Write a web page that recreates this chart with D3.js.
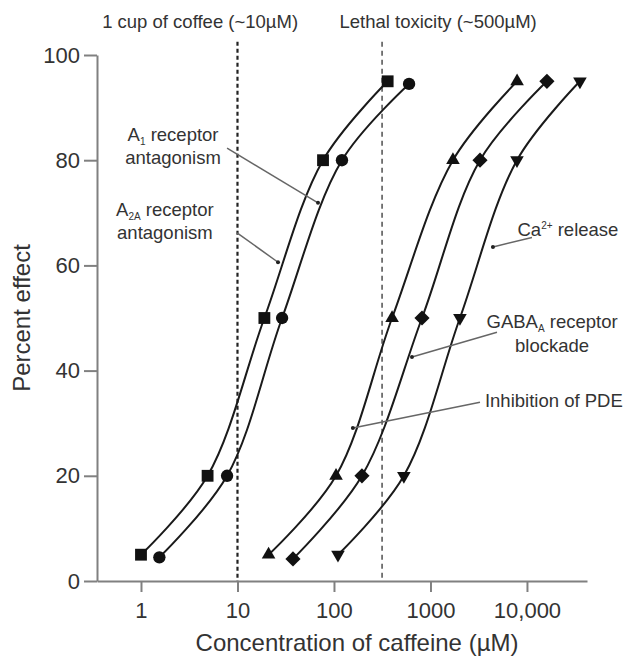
<!DOCTYPE html>
<html>
<head>
<meta charset="utf-8">
<script src="https://cdn.jsdelivr.net/npm/d3@7"></script>
<style>
  body { margin: 0; background: #fff; }
  text { font-family: "Liberation Sans", Arial, sans-serif; fill: #333; }
</style>
</head>
<body>
<div class="chart"></div>
<script>
// effect levels (percent) for every curve
var effectLevels = [5, 20, 50, 80, 95];
var a1Effect = [4.5, 20, 50, 80, 94.5];
var gabaEffect = [4.2, 20, 50, 80, 95];
// caffeine concentrations (uM) per mechanism
var a2aConc = [1, 4.9, 19, 77, 360];
var a1Conc = [1.55, 7.8, 29, 121, 600];
var pdeConc = [21, 105, 400, 1710, 7900];
var gabaConc = [37.6, 195, 817, 3260, 16100];
var calciumConc = [110, 530, 2020, 7880, 35400];
// axis ticks
var xTickValues = [1, 10, 100, 1000, 10000];
var xTickLabels = ["1", "10", "100", "1000", "10,000"];
var yTickValues = [0, 20, 40, 60, 80, 100];
// reference lines
var coffeeConc = 10;
var lethalConc = 315;

var svgWidth = 626;
var svgHeight = 656;

var svg = d3.select(".chart")
  .append("svg")
  .attr("width", svgWidth)
  .attr("height", svgHeight);

//scales
var xScale = d3.scaleLog().domain([0.35, 41900]).range([97, 587]);
var yScale = d3.scaleLinear().domain([0, 100]).range([581, 55]);

//axes
var xAxis = d3.axisBottom(xScale)
  .tickValues(xTickValues)
  .tickFormat(function(d, i){ return xTickLabels[i]; })
  .tickSize(11).tickSizeOuter(0).tickPadding(10);
var yAxis = d3.axisLeft(yScale)
  .tickValues(yTickValues)
  .tickSize(13).tickSizeOuter(0).tickPadding(4);

var xg = svg.append("g")
  .attr("transform", "translate(0," + yScale(0) + ")")
  .call(xAxis);
var yg = svg.append("g")
  .attr("transform", "translate(" + xScale(0.35) + ",0)")
  .call(yAxis);
[xg, yg].forEach(function(g){
  g.select(".domain").attr("stroke", "#808080").attr("stroke-width", 2);
  g.selectAll(".tick line").attr("stroke", "#808080").attr("stroke-width", 2);
  g.selectAll(".tick text").attr("fill", "#333").style("font-size", "22px")
    .attr("font-family", null);
});

//axis titles
svg.append("text")
  .attr("x", 357).attr("y", 651)
  .attr("text-anchor", "middle")
  .style("font-size", "24px")
  .text("Concentration of caffeine (\u00b5M)");
svg.append("text")
  .attr("transform", "translate(30,318) rotate(-90)")
  .attr("text-anchor", "middle")
  .style("font-size", "24px")
  .text("Percent effect");

//dashed reference lines
svg.append("line")
  .attr("x1", xScale(coffeeConc)).attr("x2", xScale(coffeeConc))
  .attr("y1", yScale(102.5)).attr("y2", yScale(0))
  .attr("stroke", "#222").attr("stroke-width", 2.2)
  .attr("stroke-dasharray", "4,3");
svg.append("line")
  .attr("x1", xScale(lethalConc)).attr("x2", xScale(lethalConc))
  .attr("y1", yScale(102.5)).attr("y2", yScale(0))
  .attr("stroke", "#333").attr("stroke-width", 1.3)
  .attr("stroke-dasharray", "5,4");
svg.append("text")
  .attr("x", xScale(4.1)).attr("y", yScale(105.1))
  .attr("text-anchor", "middle").style("font-size", "18.5px")
  .text("1 cup of coffee (~10\u00b5M)");
svg.append("text")
  .attr("x", xScale(1200)).attr("y", yScale(105.1))
  .attr("text-anchor", "middle").style("font-size", "18.5px")
  .text("Lethal toxicity (~500\u00b5M)");

//series
var series = [
  {conc: a2aConc, effect: effectLevels, shape: d3.symbolSquare, size: 140, rot: 0},
  {conc: a1Conc, effect: a1Effect, shape: d3.symbolCircle, size: 120, rot: 0},
  {conc: pdeConc, effect: effectLevels, shape: d3.symbolTriangle, size: 80, rot: 0},
  {conc: gabaConc, effect: gabaEffect, shape: d3.symbolSquare, size: 115, rot: 45},
  {conc: calciumConc, effect: effectLevels, shape: d3.symbolTriangle, size: 80, rot: 180}
];

var line = d3.line()
  .x(function(d){ return xScale(d[0]); })
  .y(function(d){ return yScale(d[1]); })
  .curve(d3.curveCatmullRom.alpha(0.5));

series.forEach(function(s){
  var pts = s.conc.map(function(c, i){ return [c, s.effect[i]]; });
  svg.append("path")
    .attr("d", line(pts))
    .attr("fill", "none")
    .attr("stroke", "#1a1a1a")
    .attr("stroke-width", 2);
  svg.selectAll(null)
    .data(pts)
    .enter()
    .append("path")
    .attr("d", d3.symbol().type(s.shape).size(s.size))
    .attr("transform", function(d){
      return "translate(" + xScale(d[0]) + "," + yScale(d[1]) + ") rotate(" + s.rot + ")";
    })
    .attr("fill", "#111");
});

//annotations: text lines in data coords, leader from -> to
var annotations = [
  {x: 2.15, lines: [[["A", ""], ["1", "sub"], [" receptor", ""]], [["antagonism", ""]]], y: [83.6, 79.3],
   from: [7.8, 82.3], to: [68.3, 71.9]},
  {x: 1.77, lines: [[["A", ""], ["2A", "sub"], [" receptor", ""]], [["antagonism", ""]]], y: [69.4, 65.0],
   from: [9.9, 66.2], to: [26.3, 60.6]},
  {x: 26600, lines: [[["Ca", ""], ["2+", "sup"], [" release", ""]]], y: [65.6],
   from: [11270, 65.3], to: [4440, 63.5]},
  {x: 18200, lines: [[["GABA", ""], ["A", "sub"], [" receptor", ""]], [["blockade", ""]]], y: [48.1, 43.5],
   from: [4890, 47.3], to: [643, 42.6]},
  {x: 19000, lines: [[["Inhibition of PDE", ""]]], y: [33.1],
   from: [3260, 34.0], to: [157, 29.1]}
];

annotations.forEach(function(a){
  svg.append("line")
    .attr("x1", xScale(a.from[0])).attr("y1", yScale(a.from[1]))
    .attr("x2", xScale(a.to[0])).attr("y2", yScale(a.to[1]))
    .attr("stroke", "#666").attr("stroke-width", 1.5);
  svg.append("circle")
    .attr("cx", xScale(a.to[0])).attr("cy", yScale(a.to[1]))
    .attr("r", 2).attr("fill", "#222");
  a.lines.forEach(function(parts, i){
    var t = svg.append("text")
      .attr("x", xScale(a.x)).attr("y", yScale(a.y[i]))
      .attr("text-anchor", "middle")
      .style("font-size", "18.5px");
    parts.forEach(function(p){
      var ts = t.append("tspan").text(p[0]);
      if(p[1] == "sub"){
        ts.style("font-size", "10px").attr("dy", 4);
      } else if(p[1] == "sup"){
        ts.style("font-size", "10px").attr("dy", -7);
      } else if(p[0] != parts[0][0]){
        // back to baseline after a sub/sup
        ts.attr("dy", p[0].charAt(0) == " " ? (parts[1][1] == "sub" ? -4 : 7) : 0);
      }
    });
  });
});
</script>
</body>
</html>
